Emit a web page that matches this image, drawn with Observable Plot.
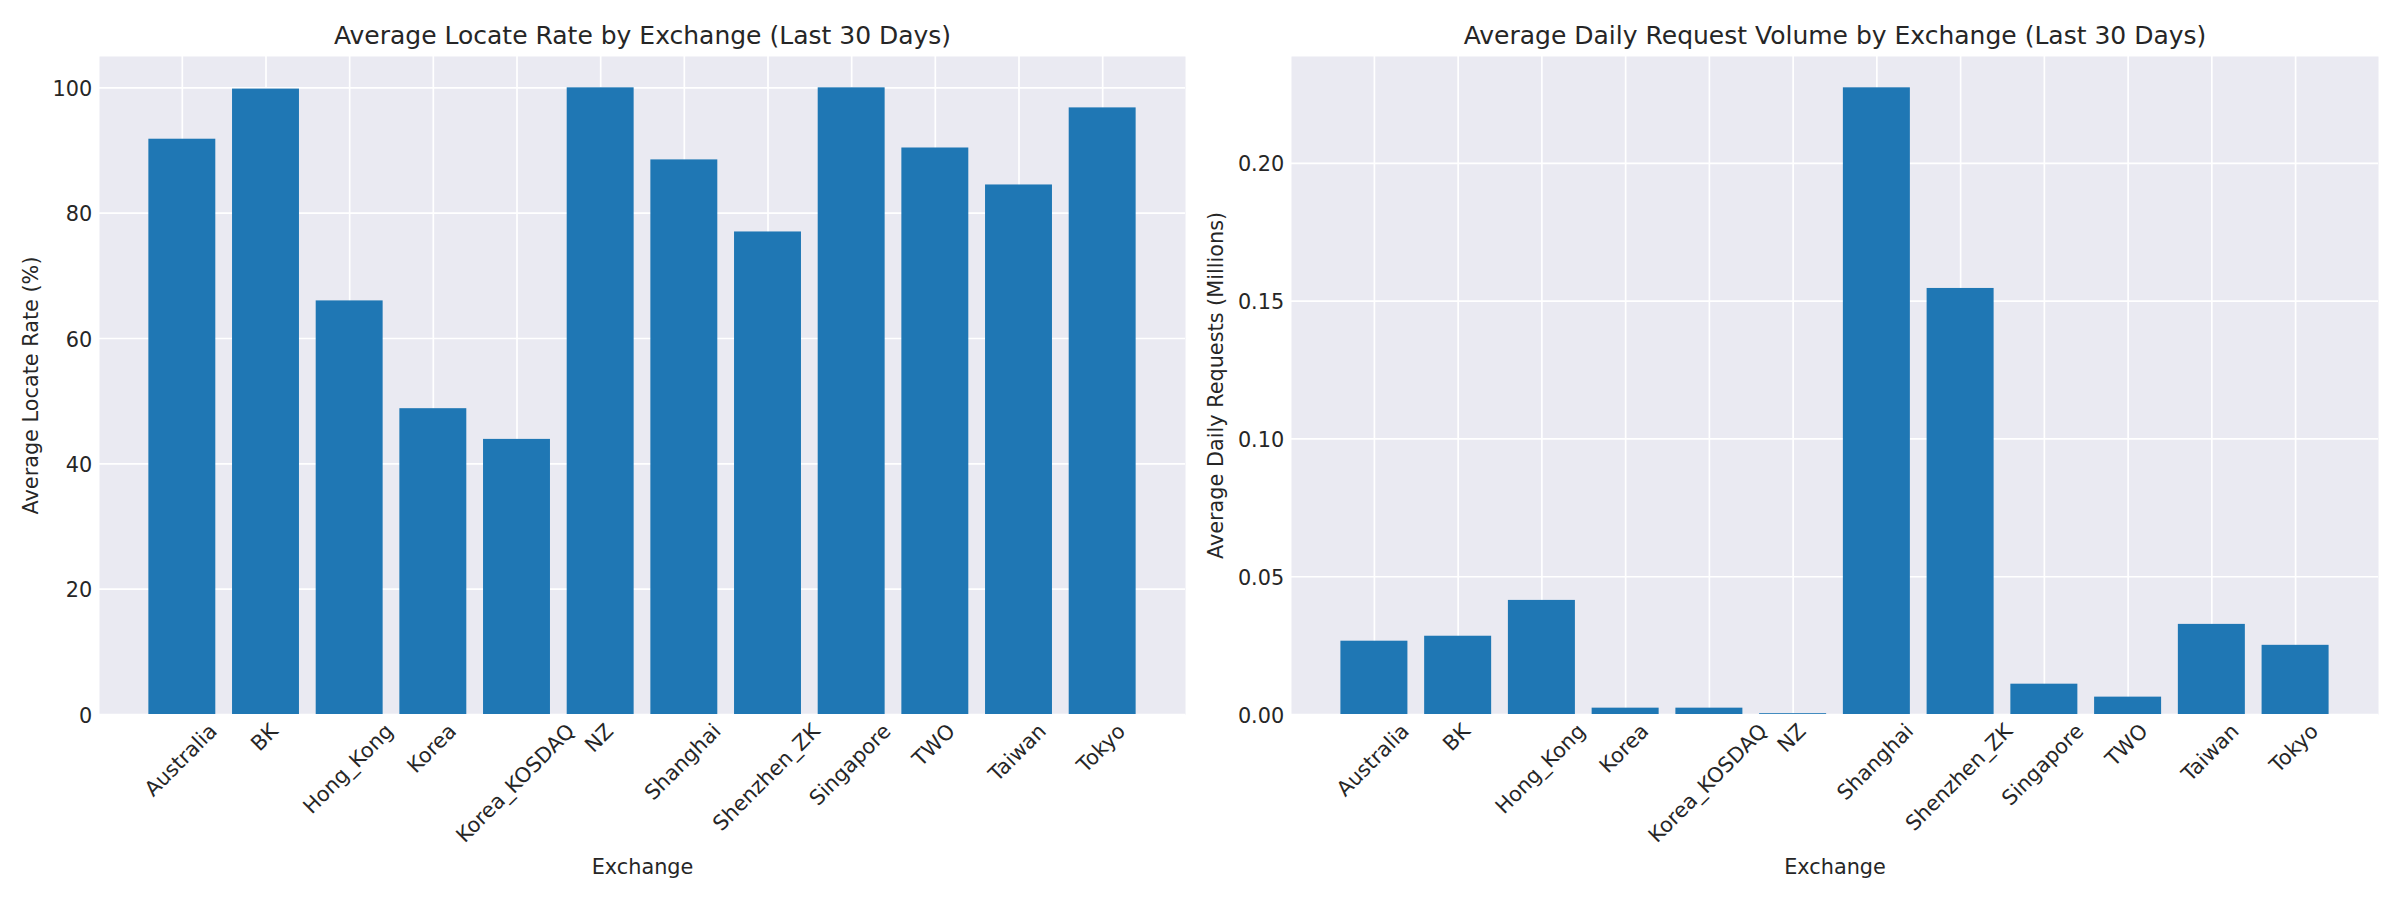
<!DOCTYPE html>
<html>
<head>
<meta charset="utf-8">
<script src="https://cdn.jsdelivr.net/npm/d3@7"></script>
<script src="https://cdn.jsdelivr.net/npm/@observablehq/plot@0.6"></script>
<style>
  html, body { margin: 0; padding: 0; background: #ffffff; }
  #wrap { position: relative; width: 2400px; height: 900px; background: #ffffff; }
  .panel { position: absolute; top: 0; width: 1200px; height: 900px; }
  .panel svg { max-width: none !important; }
</style>
</head>
<body>
<div id="wrap">
  <div id="left" class="panel" style="left:0px"></div>
  <div id="right" class="panel" style="left:1200px"></div>
</div>
<script>
// ---- data ----
const exchanges = ["Australia", "BK", "Hong_Kong", "Korea", "Korea_KOSDAQ", "NZ",
                   "Shanghai", "Shenzhen_ZK", "Singapore", "TWO", "Taiwan", "Tokyo"];
const locateRate = [91.8, 99.8, 66.0, 48.8, 43.9, 100.0, 88.5, 77.0, 100.0, 90.4, 84.5, 96.8];
const dailyRequests = [0.0266, 0.0284, 0.0414, 0.0023, 0.0023, 0.0003, 0.2274, 0.1546, 0.0110, 0.0063, 0.0327, 0.0251];
const locateTicks = [0, 20, 40, 60, 80, 100];
const requestTicks = [0.00, 0.05, 0.10, 0.15, 0.20];
const titles = ["Average Locate Rate by Exchange (Last 30 Days)",
                "Average Daily Request Volume by Exchange (Last 30 Days)"];
const yLabels = ["Average Locate Rate (%)", "Average Daily Requests (Millions)"];
const xLabel = "Exchange";

// ---- style ----
const TXT = "#262626";
const FS = 20.8;        // tick & axis label size
const TITLE_FS = 25;
const PAD = 7.3;        // tick label pad
const H = 900, MT = 56, MB = 186;

function panel(el, values, ticks, fmt, title, ylabel, marginLeft, marginRight, ylabelDx) {
  const data = exchanges.map((e, i) => ({exchange: e, value: values[i]}));
  const ymax = d3.max(values) * 1.05;
  const svg = Plot.plot({
    width: 1200, height: H,
    marginTop: MT, marginBottom: MB, marginLeft, marginRight,
    style: {fontFamily: "DejaVu Sans", color: TXT, background: "white", overflow: "visible", maxWidth: "none"},
    x: {domain: exchanges, paddingInner: 0.2, paddingOuter: 0.59, align: 0.5, round: false},
    y: {domain: [0, ymax]},
    marks: [
      Plot.frame({fill: "#EAEAF2", stroke: "none"}),
      Plot.gridX({stroke: "#ffffff", strokeOpacity: 1, strokeWidth: 1.67}),
      Plot.gridY(ticks, {stroke: "#ffffff", strokeOpacity: 1, strokeWidth: 1.67}),
      Plot.barY(data, {x: "exchange", y: "value", fill: "#1f77b4", inset: 0}),
      Plot.axisY(ticks, {tickSize: 0, tickPadding: PAD, tickFormat: fmt, fontSize: FS, fill: TXT, label: null, dy: 1.5}),
      Plot.axisX({tickSize: 0, tickRotate: -45, textAnchor: "start", lineAnchor: "bottom", fontSize: FS, fill: TXT, label: null}),
      Plot.text([title], {text: d => d, frameAnchor: "top", dy: -12.7, lineAnchor: "bottom", textAnchor: "middle", fontSize: TITLE_FS, fill: TXT}),
      Plot.text([ylabel], {text: d => d, frameAnchor: "left", rotate: -90, dx: ylabelDx, lineAnchor: "bottom", textAnchor: "middle", fontSize: FS, fill: TXT}),
      Plot.text([xLabel], {text: d => d, frameAnchor: "bottom", dy: 159.3, lineAnchor: "bottom", textAnchor: "middle", fontSize: FS, fill: TXT})
    ]
  });
  el.appendChild(svg);

  // place rotated tick labels the way matplotlib does (bbox centred on the tick, top at pad below axis)
  const xs = svg.scale("x");
  const plotBottom = H - MB;
  const names = new Set(exchanges);
  svg.querySelectorAll("text").forEach(t => {
    const label = t.textContent;
    if (!names.has(label)) return;
    const X = xs.apply(label) + xs.bandwidth / 2;
    const w = t.getComputedTextLength();
    const a = 0.76 * FS, dsc = 0.24 * FS, c = Math.SQRT1_2;
    const sx = X - c * (w + dsc - a) / 2;
    const sy = plotBottom + PAD + c * (w + a);
    const m = t.parentNode.getCTM().inverse();
    const p = new DOMPoint(sx, sy).matrixTransform(m);
    t.removeAttribute("x"); t.removeAttribute("y"); t.removeAttribute("dy");
    t.setAttribute("transform", `translate(${p.x},${p.y}) rotate(-45)`);
  });
}

panel(document.getElementById("left"), locateRate, locateTicks, d3.format("d"),
      titles[0], yLabels[0], 99, 15, -61.5);
panel(document.getElementById("right"), dailyRequests, requestTicks, d3.format(".2f"),
      titles[1], yLabels[1], 91, 22, -68.5);
</script>
</body>
</html>
